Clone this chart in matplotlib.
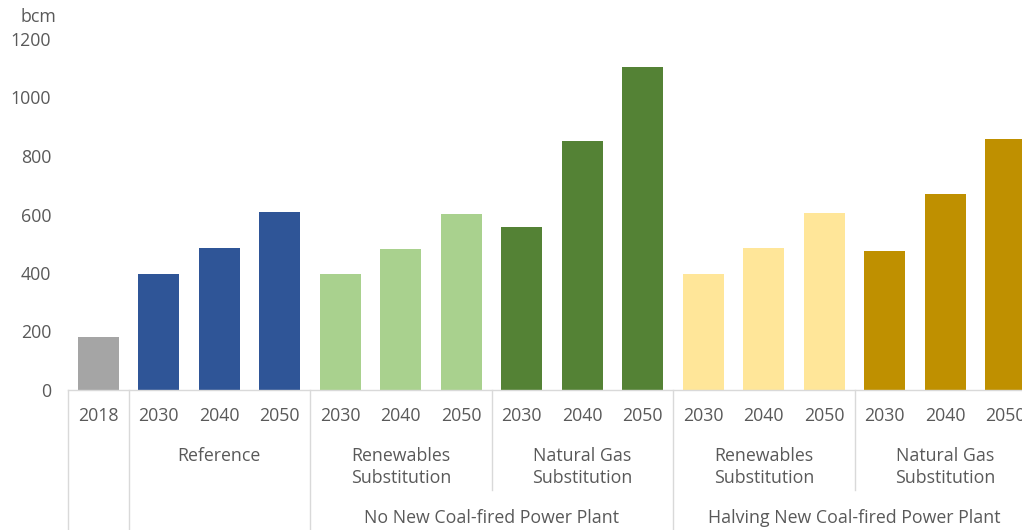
import matplotlib
matplotlib.use("Agg")
import matplotlib.pyplot as plt
from matplotlib.transforms import blended_transform_factory

# Natural gas demand by scenario (bcm)
years = ["2018", "2030", "2040", "2050", "2030", "2040", "2050", "2030", "2040", "2050",
         "2030", "2040", "2050", "2030", "2040", "2050"]
values = [181, 397, 485, 608, 397, 482, 602, 557, 851, 1104, 397, 485, 605, 475, 670, 858]
colors = ["#A5A5A5",
          "#2F5597", "#2F5597", "#2F5597",
          "#A9D18E", "#A9D18E", "#A9D18E",
          "#548235", "#548235", "#548235",
          "#FFE699", "#FFE699", "#FFE699",
          "#BF9000", "#BF9000", "#BF9000"]

# (label, first index, last index)
scenarios = [("Reference", 1, 3),
             ("Renewables\nSubstitution", 4, 6),
             ("Natural Gas\nSubstitution", 7, 9),
             ("Renewables\nSubstitution", 10, 12),
             ("Natural Gas\nSubstitution", 13, 15)]
policies = [("No New Coal-fired Power Plant", 4, 9),
            ("Halving New Coal-fired Power Plant", 10, 15)]

W, H = 1022, 530
FONT = "Open Sans"
TXT = "#595959"
LINE = "#D9D9D9"
FS = 12.8

fig = plt.figure(figsize=(W / 100, H / 100), dpi=100)
ax_left, ax_right, ax_top, ax_bottom = 68, 1036, 39, 390
ax = fig.add_axes([ax_left / W, (H - ax_bottom) / H,
                   (ax_right - ax_left) / W, (ax_bottom - ax_top) / H])

x = list(range(len(values)))
ax.bar(x, values, width=0.68, color=colors, zorder=2)
ax.set_xlim(-0.5, len(values) - 0.5)
ax.set_ylim(0, 1200)
ax.set_yticks(range(0, 1201, 200))
ax.tick_params(axis="y", length=0, pad=12, labelsize=FS, labelcolor=TXT)
for lab in ax.get_yticklabels():
    lab.set_fontfamily(FONT)
ax.set_xticks([])
for s in ["top", "right", "left"]:
    ax.spines[s].set_visible(False)
ax.spines["bottom"].set_color(LINE)
ax.spines["bottom"].set_linewidth(1)

ax_h = ax_bottom - ax_top


def yfrac(py):
    return (ax_bottom - py) / ax_h


tr = blended_transform_factory(ax.transData, ax.transAxes)

# year labels
for i, yr in enumerate(years):
    ax.text(i, yfrac(416), yr, transform=tr, ha="center", va="center",
            fontsize=FS, color=TXT, family=FONT)

# scenario labels
for lab, a, b in scenarios:
    ax.text((a + b) / 2, yfrac(467 if "\n" in lab else 456), lab, transform=tr,
            ha="center", va="center", fontsize=FS, color=TXT, family=FONT,
            linespacing=1.33)

# policy labels
for lab, a, b in policies:
    ax.text((a + b) / 2, yfrac(518), lab, transform=tr, ha="center", va="center",
            fontsize=FS, color=TXT, family=FONT)

# category separators
full = [-0.5, 0.5, 3.5, 9.5, 15.5]
partial = [6.5, 12.5]
for xb in full:
    ax.plot([xb, xb], [0, yfrac(H)], transform=tr, color=LINE, lw=1, clip_on=False)
for xb in partial:
    ax.plot([xb, xb], [0, yfrac(490)], transform=tr, color=LINE, lw=1, clip_on=False)

fig.text(38 / W, 1 - 17 / H, "bcm", ha="center", va="center", fontsize=FS,
         color=TXT, family=FONT)

fig.savefig("out.png", dpi=100)
